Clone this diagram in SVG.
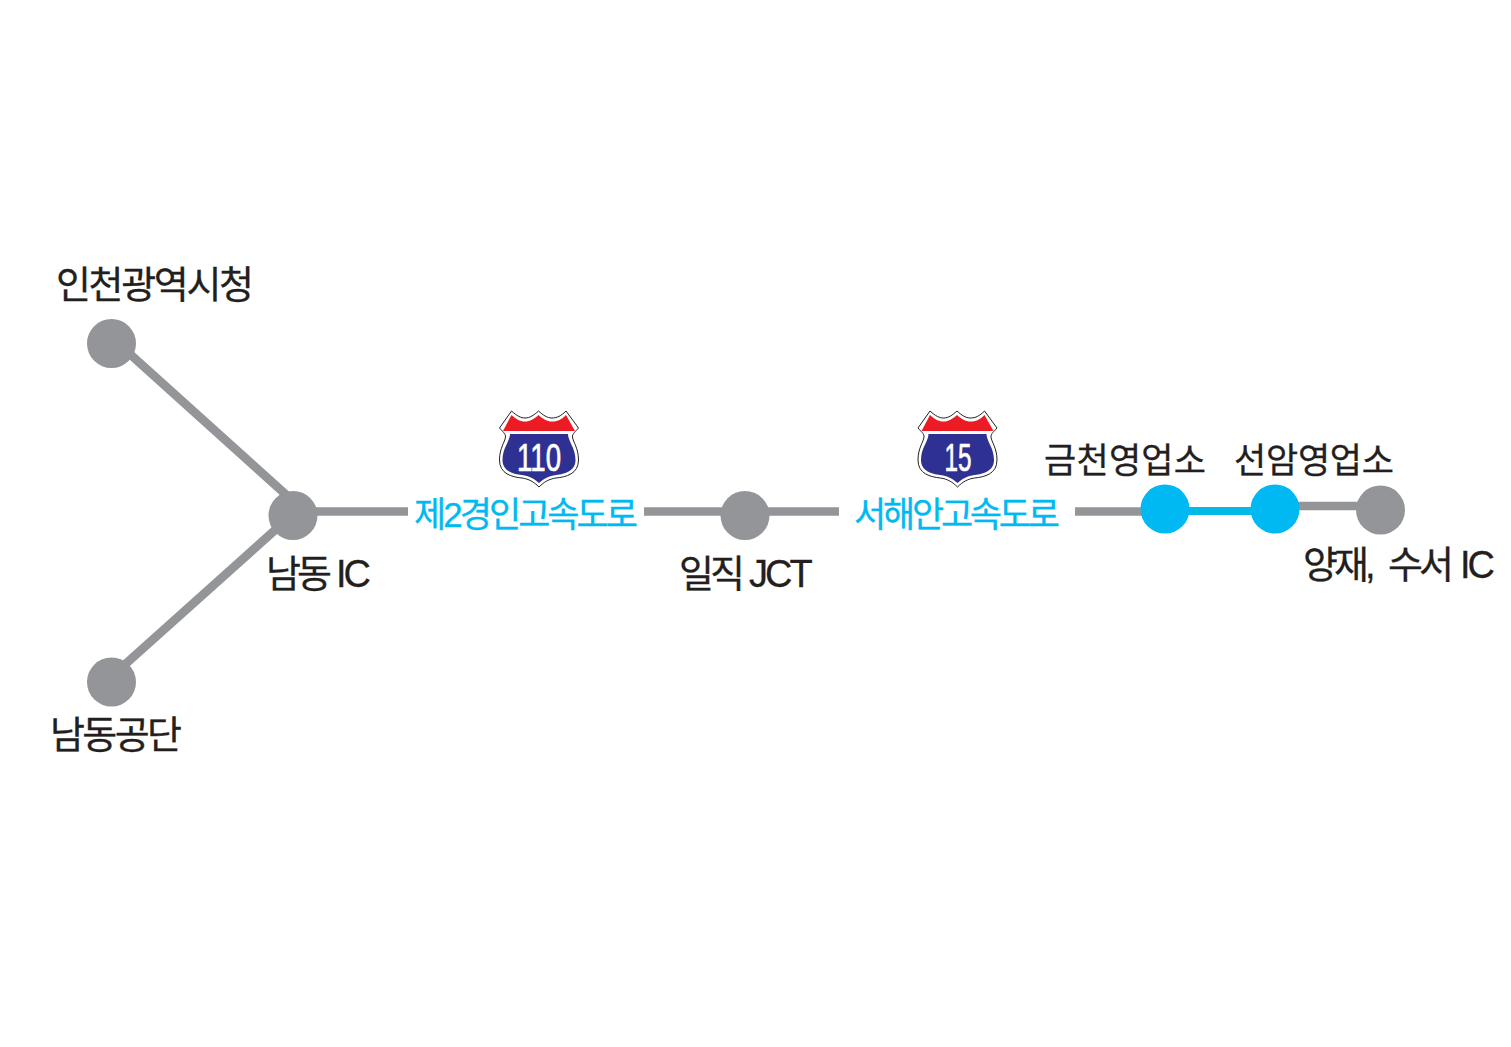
<svg xmlns="http://www.w3.org/2000/svg" width="1511" height="1047" viewBox="0 0 1511 1047">
<style>
.t{font-family:"Liberation Sans","Noto Sans CJK KR",sans-serif;font-size:38px;fill:#231f20;stroke:#231f20;stroke-width:.3;font-weight:400}
.s{font-size:35px}
.b{fill:#00b9f2}
.g{fill:#939598}
.c{fill:#00b9f2;stroke:#00b9f2;font-size:35px}
.l{stroke:#939598;stroke-width:8.700;fill:none}
.n{font-family:"Liberation Sans",sans-serif;font-size:38px;fill:#fff;stroke:#fff;stroke-width:.7;text-anchor:middle}
.x{letter-spacing:-3px}
</style>
<defs>
<g id="badge">
<path d="M511.500 411 C517 416 521 418 525 418 C530 418 534 415 538.500 411 C543 415 547 418 552 418 C557 418 561 416 566 411 L578.500 428 C576 431 572 434 572.500 437 C573 442 578.500 448 578.500 460 C578.500 474 566 477 556 478 C549 479 544 482 539 487 C534 482 529 479 522 478 C512 477 499.500 474 499.500 460 C499.500 448 505 442 505.500 437 C506 434 502 431 499.500 428 Z" fill="#fff" stroke="#231f20" stroke-width="1"/>
<path d="M511.500 415 C517 420 521 421.500 525 421.500 C530 421.500 534 419 538.500 415 C543 419 547 421.500 552 421.500 C557 421.500 561 420 566 415 L575 431 L503 431 Z" fill="#ed1c24"/>
<path d="M510 434 L568 434 C568 441 575.500 448 575.500 460 C575.500 471 565 474 556 475 C549 476 544 478.500 539 483 C534 478.500 529 476 522 475 C513 474 502.500 471 502.500 460 C502.500 448 510 441 510 434 Z" fill="#2e3192"/>
</g>
</defs>
<rect width="1511" height="1047" fill="#fff"/>
<g id="connectors">
<path class="l" d="M111 337 L293 501"/>
<path class="l" d="M111 677 L293 514"/>
<path class="l" d="M293 511.500 H408"/>
<path class="l" d="M644 511.500 H839"/>
<path class="l" d="M1075 511.500 H1165"/>
<path d="M1165 511 H1275" stroke="#00b9e4" stroke-width="8" fill="none"/>
<path class="l" d="M1275 506 H1380"/>
</g>
<g id="node-incheon"><circle class="g" cx="111.500" cy="343.500" r="24.500"/><text class="t" x="56" y="298" textLength="198" lengthAdjust="spacing">인천광역시청</text></g>
<g id="node-namdong-gongdan"><circle class="g" cx="111.500" cy="682" r="24.500"/><text class="t" x="50" y="748" textLength="132" lengthAdjust="spacing">남동공단</text></g>
<g id="node-namdong-ic"><circle class="g" cx="293" cy="515.500" r="24.500"/><text class="t" x="266" y="587" letter-spacing="-4">남동<tspan class="x" x="336">IC</tspan></text></g>
<g id="node-ilmjik"><circle class="g" cx="745" cy="515.500" r="24.500"/><text class="t" x="679" y="587" letter-spacing="-4">일직<tspan class="x" x="749">JCT</tspan></text></g>
<g id="node-geumcheon"><circle class="b" cx="1165" cy="509" r="24.500"/><text class="t s" x="1044" y="473" textLength="162" lengthAdjust="spacing">금천영업소</text></g>
<g id="node-seonam"><circle class="b" cx="1275" cy="509" r="24.500"/><text class="t s" x="1234" y="473" textLength="160" lengthAdjust="spacing">선암영업소</text></g>
<g id="node-yangjae"><circle class="g" cx="1380.500" cy="510" r="24.500"/><text class="t" x="1303" y="578" letter-spacing="-4">양재,<tspan x="1388">수서</tspan><tspan class="x" x="1460">IC</tspan></text></g>
<g id="road-110">
<use href="#badge"/>
<text class="n" x="539" y="471" textLength="44" lengthAdjust="spacingAndGlyphs">110</text>
<text class="t c" x="414" y="527" textLength="224" lengthAdjust="spacing">제2경인고속도로</text>
</g>
<g id="road-15">
<use href="#badge" x="418.500"/>
<text class="n" x="958" y="471" textLength="27" lengthAdjust="spacingAndGlyphs">15</text>
<text class="t c" x="854" y="527" textLength="206" lengthAdjust="spacing">서해안고속도로</text>
</g>
</svg>
